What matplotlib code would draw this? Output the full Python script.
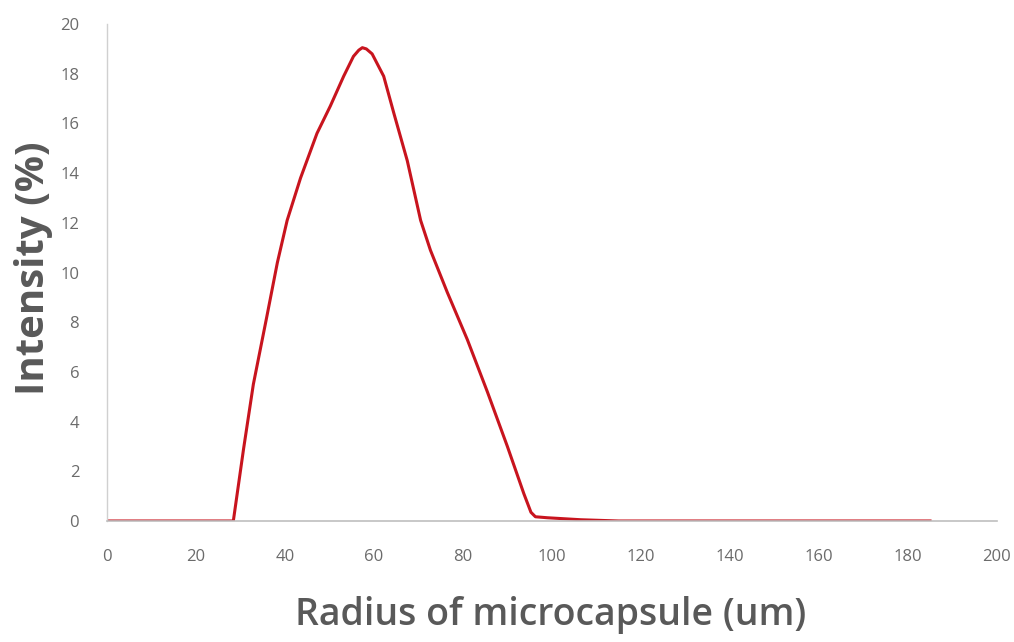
import matplotlib
matplotlib.use("Agg")
import matplotlib.pyplot as plt

# size distribution
radius = [0, 28.4, 30.7, 32.9, 35.9, 38.3, 40.5, 43.5, 47.2, 50.2, 53.2, 55.4, 56.6,
          57.4, 58.3, 59.6, 62.2, 64.5, 67.5, 70.5, 72.7, 76.5, 81, 85.5, 90, 93.7,
          95.3, 96.3, 99, 106.5, 115, 130, 150, 185]
intensity = [0, 0, 2.9, 5.5, 8.2, 10.4, 12.1, 13.8, 15.6, 16.7, 17.9, 18.7, 18.95,
             19.05, 19.0, 18.8, 17.9, 16.4, 14.5, 12.1, 10.9, 9.2, 7.3, 5.2, 3.0, 1.1,
             0.35, 0.17, 0.13, 0.05, 0.0, 0.0, 0.0, 0.0]

xticks = list(range(0, 201, 20))
yticks = list(range(0, 21, 2))

fig = plt.figure(figsize=(10.14, 6.42), dpi=100)
ax = fig.add_axes([0.1055, 0.1885, 0.8775, 0.774])

ax.plot(radius, intensity, color="#c8141e", lw=2.2, solid_joinstyle="round")

ax.set_xlim(0, 200)
ax.set_ylim(0, 20)
ax.set_xticks(xticks)
ax.set_yticks(yticks)

tick_font = ["Liberation Sans Narrow", "Open Sans", "DejaVu Sans"]
for lab in ax.get_xticklabels() + ax.get_yticklabels():
    lab.set_family(tick_font)
    lab.set_fontsize(12)
    lab.set_color("#6b6b6b")
ax.tick_params(axis="both", length=0)
ax.tick_params(axis="x", pad=20)
ax.tick_params(axis="y", pad=20)

for s in ["top", "right"]:
    ax.spines[s].set_visible(False)
ax.spines["bottom"].set_color("#bfbfbf")
ax.spines["left"].set_color("#d0d0d0")
ax.spines["bottom"].set_linewidth(1.2)
ax.spines["left"].set_linewidth(1.0)

fig.text(0.033, 0.582, "Intensity (%)", rotation=90, ha="center", va="center",
         fontsize=29, fontweight="bold", color="#595959", family="Open Sans")
fig.text(0.543, 0.042, "Radius of microcapsule (um)", ha="center", va="center",
         fontsize=27, fontweight="semibold", color="#595959", family="Open Sans")

fig.savefig("out.png", dpi=100)
